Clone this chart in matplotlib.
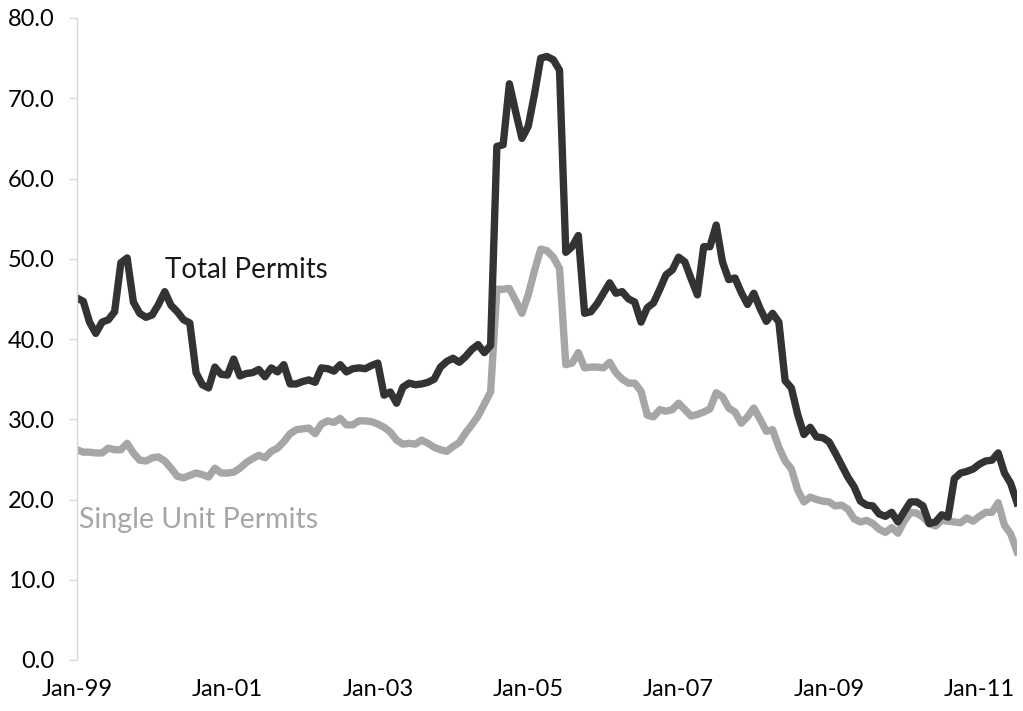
import matplotlib
matplotlib.use("Agg")
import matplotlib.pyplot as plt
import numpy as np
import pandas as pd

plt.rcParams['font.family'] = ['Lato', 'DejaVu Sans']

# 月度建筑许可（千套），1999年1月至2011年7月
total_permits = [
    45.1, 44.7, 42.1, 40.7, 42.1, 42.4, 43.4, 49.5, 50.1, 44.6, 43.2, 42.7,
    43.0, 44.3, 45.9, 44.2, 43.4, 42.4, 42.0, 35.8, 34.3, 33.9, 36.5, 35.6,
    35.5, 37.5, 35.4, 35.7, 35.8, 36.2, 35.3, 36.4, 35.9, 36.8, 34.4, 34.4,
    34.7, 34.9, 34.6, 36.4, 36.3, 36.0, 36.8, 35.9, 36.3, 36.4, 36.3, 36.7,
    37.0, 33.0, 33.4, 32.0, 34.0, 34.5, 34.3, 34.4, 34.6, 35.0, 36.5, 37.2,
    37.6, 37.1, 37.8, 38.7, 39.3, 38.3, 39.2, 64.0, 64.2, 71.8, 68.3, 65.0,
    66.5, 70.5, 75.0, 75.2, 74.8, 73.5, 50.8, 51.5, 52.9, 43.2, 43.4, 44.4,
    45.7, 47.0, 45.7, 45.9, 45.0, 44.6, 42.1, 43.9, 44.5, 46.2, 48.0, 48.6,
    50.2, 49.6, 47.5, 45.5, 51.5, 51.5, 54.2, 49.6, 47.4, 47.6, 45.8, 44.3,
    45.7, 43.8, 42.2, 43.2, 42.1, 34.8, 33.9, 30.6, 28.1, 29.0, 27.8, 27.7,
    27.2, 25.8, 24.3, 22.8, 21.6, 19.8, 19.3, 19.2, 18.2, 17.9, 18.4, 17.2,
    18.5, 19.7, 19.7, 19.2, 17.0, 17.2, 18.1, 17.8, 22.6, 23.3, 23.5, 23.8,
    24.4, 24.8, 24.9, 25.8, 23.3, 22.0, 19.6,
]
single_unit = [
    26.2, 25.9, 25.9, 25.8, 25.8, 26.4, 26.2, 26.2, 27.0, 25.8, 24.9, 24.8,
    25.2, 25.3, 24.8, 23.9, 22.9, 22.7, 23.0, 23.3, 23.1, 22.8, 23.9, 23.3,
    23.3, 23.4, 23.9, 24.6, 25.1, 25.5, 25.2, 26.0, 26.4, 27.2, 28.2, 28.7,
    28.8, 28.9, 28.2, 29.4, 29.8, 29.6, 30.1, 29.3, 29.3, 29.8, 29.8, 29.7,
    29.4, 29.0, 28.4, 27.4, 26.9, 27.0, 26.9, 27.4, 27.0, 26.5, 26.2, 26.0,
    26.6, 27.1, 28.3, 29.3, 30.4, 31.9, 33.4, 46.2, 46.2, 46.3, 44.8, 43.2,
    45.5, 48.5, 51.2, 51.0, 50.2, 48.8, 36.8, 37.0, 38.3, 36.4, 36.5, 36.5,
    36.4, 37.1, 35.8, 35.0, 34.5, 34.5, 33.5, 30.5, 30.3, 31.2, 31.0, 31.2,
    32.0, 31.2, 30.4, 30.6, 30.9, 31.3, 33.3, 32.8, 31.4, 30.9, 29.5, 30.3,
    31.4, 30.0, 28.5, 28.7, 26.5, 24.8, 23.8, 21.2, 19.7, 20.3, 20.0, 19.8,
    19.7, 19.2, 19.3, 18.8, 17.6, 17.2, 17.4, 17.0, 16.3, 15.9, 16.5, 15.8,
    17.3, 18.4, 18.3, 17.8, 17.0, 16.7, 17.4, 17.3, 17.2, 17.1, 17.7, 17.3,
    17.9, 18.4, 18.4, 19.6, 16.8, 15.7, 13.5,
]
months = pd.date_range('1999-01-01', periods=len(total_permits), freq='MS')
tick_labels = ['Jan-99', 'Jan-01', 'Jan-03', 'Jan-05', 'Jan-07', 'Jan-09', 'Jan-11']
y_ticks = [0, 10, 20, 30, 40, 50, 60, 70, 80]

fig = plt.figure(figsize=(10.23, 7.11), dpi=100)
ax = fig.add_axes([77 / 1023, 1 - 660 / 711, 940 / 1023, 642 / 711])

x = np.arange(len(months))
ax.plot(x, single_unit, color='#a6a6a6', linewidth=5.3, solid_joinstyle='round')
ax.plot(x, total_permits, color='#333333', linewidth=5.3, solid_joinstyle='round')

ax.set_xlim(0, len(months) - 1)
ax.set_ylim(0, 80)

# 每两年一月标一个刻度
tick_pos = [i for i, m in enumerate(months) if m.month == 1 and m.year % 2 == 1]
ax.set_xticks(tick_pos)
ax.set_xticklabels(tick_labels, fontsize=17, color='black')
ax.tick_params(axis='x', length=0, pad=14)

ax.set_yticks(y_ticks)
ax.set_yticklabels([f'{v:.1f}' for v in y_ticks], fontsize=17, color='black')
ax.tick_params(axis='y', length=6, width=1, color='#d9d9d9', pad=10)

for side in ['top', 'right', 'bottom']:
    ax.spines[side].set_visible(False)
ax.spines['left'].set_color('#d9d9d9')
ax.spines['left'].set_linewidth(1)

ax.text(14, 48.6, 'Total Permits', fontsize=20, color='#1a1a1a', va='center')
ax.text(0.3, 17.5, 'Single Unit Permits', fontsize=20.5, color='#a6a6a6', va='center')

fig.savefig('out.png', dpi=100)
